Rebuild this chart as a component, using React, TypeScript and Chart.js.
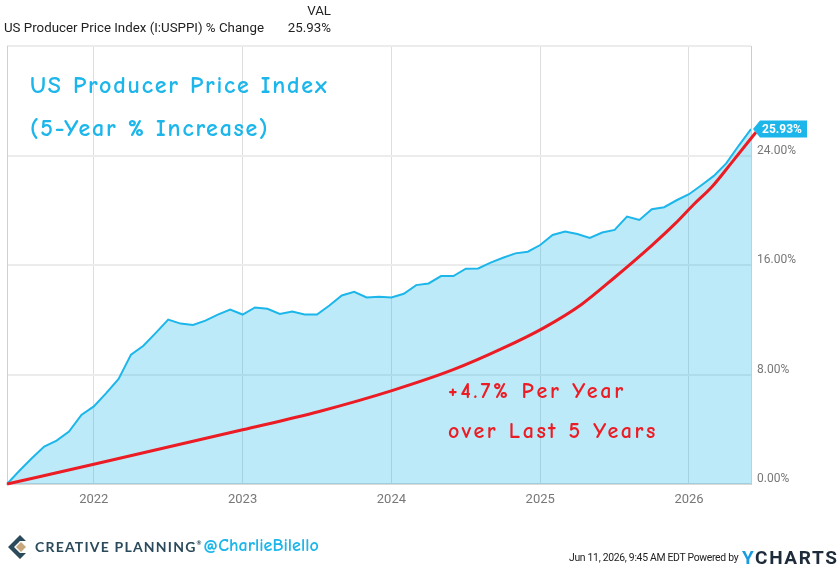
import React, { useEffect, useRef } from "react";
import { Chart, registerables } from "chart.js";

Chart.register(...registerables);

// Monthly 5-year % change of US PPI, Jun 2021 .. Jun 2026
const START_YEAR = 2021;
const START_MONTH = 6;
const ppiChange = [
  0, 0.97, 1.88, 2.73, 3.17, 3.83, 5.05, 5.67, 6.64, 7.67,
  9.45, 10.1, 11.04, 12.01, 11.72, 11.62, 11.94, 12.38, 12.75, 12.38,
  12.9, 12.8, 12.43, 12.6, 12.38, 12.38, 13.04, 13.77, 14.04, 13.63,
  13.68, 13.63, 13.9, 14.53, 14.65, 15.19, 15.19, 15.73, 15.75, 16.17,
  16.53, 16.85, 16.97, 17.46, 18.19, 18.44, 18.26, 17.97, 18.37, 18.56,
  19.54, 19.29, 20.07, 20.22, 20.73, 21.17, 21.83, 22.51, 23.42, 24.71,
  25.93,
];

// Hand-drawn "+4.7% per year" trend curve (x in years, y in %)
const trendYears = [
  2021.417, 2022.0, 2023.0, 2023.515, 2024.009, 2024.415, 2024.753, 2025.024,
  2025.275, 2025.498, 2025.747, 2025.905, 2026.033, 2026.153, 2026.288, 2026.45,
];
const trendValues = [
  0, 1.44, 3.96, 5.3, 6.84, 8.35, 9.94, 11.41,
  13.1, 15.07, 17.4, 19.0, 20.44, 21.7, 23.5, 25.7,
];

const yearTicks = [2022, 2023, 2024, 2025, 2026];
const yTicks = [0, 8, 16, 24, 32];
const lastLabel = "25.93%";

const BLUE = "rgb(28,182,234)";
const RED = "#ec1c24";

const monthX = ppiChange.map((_, i) => START_YEAR + (START_MONTH - 1 + i) / 12);

const comic = '"Comic Sans MS", "Comic Neue", "Open Sans", sans-serif';

export default function App() {
  const ref = useRef<HTMLCanvasElement | null>(null);

  useEffect(() => {
    if (!ref.current) return;
    const borderPlugin = {
      id: "plotBorder",
      beforeDatasetsDraw(chart: any) {
        const { ctx, chartArea } = chart;
        ctx.save();
        ctx.strokeStyle = "#cfcfcf";
        ctx.lineWidth = 1;
        ctx.beginPath();
        ctx.moveTo(chartArea.left + 0.5, chartArea.top);
        ctx.lineTo(chartArea.left + 0.5, chartArea.bottom);
        ctx.stroke();
        ctx.restore();
      },
    };
    const valueLabel = {
      id: "valueLabel",
      afterDatasetsDraw(chart: any) {
        const meta = chart.getDatasetMeta(1);
        const pt = meta.data[meta.data.length - 1];
        if (!pt) return;
        const { ctx } = chart;
        const x = pt.x + 2;
        const y = pt.y;
        const h = 17;
        const bx = x + 7;
        const bw = 47;
        ctx.save();
        ctx.fillStyle = BLUE;
        ctx.beginPath();
        ctx.moveTo(x, y);
        ctx.lineTo(bx, y - h / 2);
        ctx.lineTo(bx + bw, y - h / 2);
        ctx.lineTo(bx + bw, y + h / 2);
        ctx.lineTo(bx, y + h / 2);
        ctx.closePath();
        ctx.fill();
        ctx.fillStyle = "#ffffff";
        ctx.font = "bold 12px Roboto";
        ctx.textBaseline = "middle";
        ctx.textAlign = "left";
        ctx.fillText(lastLabel, bx + 2, y + 0.5);
        ctx.restore();
      },
    };

    const chart = new Chart(ref.current, {
      type: "line",
      data: {
        datasets: [
          {
            label: "trend",
            data: trendYears.map((x, i) => ({ x, y: trendValues[i] })),
            borderColor: RED,
            borderWidth: 3,
            pointRadius: 0,
            fill: false,
            cubicInterpolationMode: "monotone",
            order: 0,
            clip: false,
          } as any,
          {
            label: "US Producer Price Index (I:USPPI) % Change",
            data: ppiChange.map((y, i) => ({ x: monthX[i], y })),
            borderColor: BLUE,
            backgroundColor: "rgba(28,182,234,0.29)",
            borderWidth: 2,
            pointRadius: 0,
            fill: "origin",
            tension: 0,
            order: 1,
          } as any,
        ],
      },
      options: {
        animation: false,
        responsive: false,
        devicePixelRatio: 1,
        layout: { padding: { top: 46, left: 7, right: 0, bottom: 0 } },
        plugins: { legend: { display: false }, tooltip: { enabled: false } },
        scales: {
          x: {
            type: "linear",
            min: monthX[0],
            max: monthX[monthX.length - 1],
            afterBuildTicks: (s: any) => {
              s.ticks = yearTicks.map((v) => ({ value: v }));
            },
            afterFit: (s: any) => {
              s.height = 83;
            },
            ticks: {
              callback: (v: any) => String(v),
              color: "#777777",
              font: { family: "Roboto", size: 13 },
              padding: 8,
              maxRotation: 0,
              autoSkip: false,
            },
            grid: { color: "#dedede", lineWidth: 1, drawTicks: false },
            border: { display: true, color: "#d9d9d9", width: 2 },
          },
          y: {
            position: "right",
            min: 0,
            max: 32,
            afterBuildTicks: (s: any) => {
              s.ticks = yTicks.map((v) => ({ value: v }));
            },
            afterFit: (s: any) => {
              s.width = 89;
            },
            ticks: {
              callback: (v: any) => (v === 32 ? "" : Number(v).toFixed(2) + "%"),
              color: "#777777",
              font: { family: "Roboto", size: 12 },
              padding: 6,
              labelOffset: -5,
            } as any,
            grid: { color: "#ececec", lineWidth: 2, drawTicks: false },
            border: { display: true, color: "#cccccc", width: 1 },
          },
        },
      } as any,
      plugins: [borderPlugin, valueLabel],
    });
    return () => chart.destroy();
  }, []);

  const abs = (s: React.CSSProperties): React.CSSProperties => ({
    position: "absolute",
    whiteSpace: "nowrap",
    lineHeight: 1,
    ...s,
  });

  return (
    <div
      style={{
        position: "absolute",
        left: 0,
        top: 0,
        width: 840,
        height: 567,
        background: "#ffffff",
        overflow: "hidden",
        fontFamily: "Roboto, sans-serif",
      }}
    >
      <canvas ref={ref} width={840} height={567} style={{ position: "absolute", left: 0, top: 0 }} />

      <div style={abs({ left: 4, top: 21, fontSize: 13.3, color: "#222" })}>
        US Producer Price Index (I:USPPI) % Change
      </div>
      <div style={abs({ right: 840 - 331, top: 4, fontSize: 13.3, color: "#222", textAlign: "right" })}>VAL</div>
      <div style={abs({ right: 840 - 331, top: 21, fontSize: 13.3, color: "#222", textAlign: "right" })}>
        25.93%
      </div>

      <div style={abs({ left: 30, top: 73, fontSize: 24, fontWeight: 600, letterSpacing: 1.75, color: BLUE, fontFamily: comic })}>
        US Producer Price Index
      </div>
      <div style={abs({ left: 30, top: 116, fontSize: 24, fontWeight: 600, letterSpacing: 1.75, color: BLUE, fontFamily: comic })}>
        (5-Year % Increase)
      </div>

      <div style={abs({ left: 448, top: 380, fontSize: 22, fontWeight: 600, letterSpacing: 2.8, color: RED, fontFamily: comic })}>
        +4.7% Per Year
      </div>
      <div style={abs({ left: 448, top: 420, fontSize: 22, fontWeight: 600, letterSpacing: 2.6, color: RED, fontFamily: comic })}>
        over Last 5 Years
      </div>

      <svg style={{ position: "absolute", left: 8, top: 535 }} width={22} height={24} viewBox="0 0 22 24">
        <path d="M12 0 L0 12 L12 24 L18 18 L12 18 L6 12 L12 6 L18 6 Z" fill="#2b4a5b" />
        <path d="M13 7 L18 12 L13 17 L8 12 Z" fill="#c6a87c" />
      </svg>
      <div
        style={abs({
          left: 35,
          top: 540,
          fontSize: 14,
          fontWeight: 700,
          letterSpacing: 1.2,
          color: "#2b4a5b",
          fontFamily: "Lato, Roboto, sans-serif",
        })}
      >
        CREATIVE PLANNING<span style={{ fontSize: 6, verticalAlign: "top", letterSpacing: 0 }}>®</span>
      </div>
      <div style={abs({ left: 203, top: 537, fontSize: 18, fontWeight: 600, color: BLUE, fontFamily: comic })}>
        @CharlieBilello
      </div>

      <div style={abs({ left: 569, top: 553, fontSize: 10.4, letterSpacing: -0.3, color: "#222" })}>
        Jun 11, 2026, 9:45 AM EDT Powered by
      </div>
      <div
        style={abs({
          left: 742,
          top: 548,
          fontSize: 19,
          fontWeight: 700,
          letterSpacing: 1.6,
          color: "#1d2b3a",
          fontFamily: "Roboto, sans-serif",
        })}
      >
        <span style={{ color: "#1a9be0" }}>Y</span>CHARTS
      </div>
    </div>
  );
}
